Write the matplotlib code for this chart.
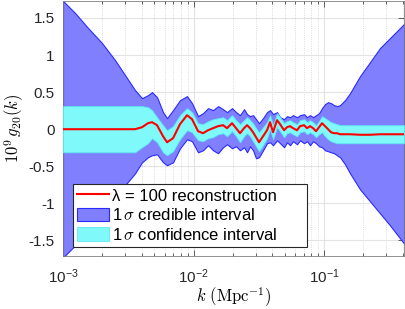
import matplotlib
import matplotlib.pyplot as plt
from matplotlib.ticker import FixedLocator, FixedFormatter, LogLocator, NullFormatter

matplotlib.use("Agg")

plt.rcParams["font.family"] = ["Liberation Sans", "DejaVu Sans"]
plt.rcParams["mathtext.fontset"] = "cm"

# wavenumber grid (Mpc^-1)
k = [0.001, 0.001236, 0.001555, 0.00199, 0.002503, 0.002986, 0.003562, 0.004031,
     0.004479, 0.004808,
     0.005253, 0.00584, 0.006264, 0.006966, 0.007876, 0.008916, 0.009738, 0.01083,
     0.01182, 0.01292, 0.01411, 0.01541, 0.01683, 0.01806, 0.01972, 0.02117,
     0.02271, 0.02438, 0.0257, 0.0271, 0.02857, 0.03012, 0.03176, 0.03409,
     0.03658, 0.03857, 0.04066, 0.04364, 0.04601, 0.04937, 0.05205, 0.05488,
     0.05786, 0.06209, 0.06547, 0.07025, 0.07407, 0.0781, 0.08234, 0.08681,
     0.09156, 0.09654, 0.1018, 0.1073, 0.1131, 0.1193, 0.1258, 0.1326,
     0.1448, 0.1582, 0.1887, 0.2252, 0.2686, 0.3204, 0.41]

recon = [0, 0, 0, 0, 0, 0, 0, 0.027, 0.081, 0.095,
         0.054, -0.095, -0.176, -0.122, 0.068, 0.189, 0.135, -0.027,
         -0.054, -0.014, 0.014, 0.041, 0.054, 0.014, 0.081, 0.014,
         -0.054, 0.014, 0.054, 0.014, -0.041, -0.108, -0.176, -0.095,
         -0.014, 0.095, -0.041, 0.122, 0.068, -0.014, 0.027, 0.041,
         0.014, -0.014, 0.041, 0.054, 0.014, 0.041, 0.014, -0.027,
         0.027, 0.081, 0.041, 0.0, -0.041, -0.054, -0.054, -0.068,
         -0.068, -0.068, -0.075, -0.075, -0.068, -0.068, -0.068]

cred_hi = [1.73, 1.568, 1.365, 1.162, 0.932, 0.73, 0.527, 0.419, 0.459, 0.5,
           0.432, 0.23, 0.149, 0.257, 0.392, 0.446, 0.351, 0.176,
           0.216, 0.284, 0.257, 0.311, 0.27, 0.23, 0.284, 0.23,
           0.189, 0.27, 0.203, 0.176, 0.189, 0.135, 0.081, 0.149,
           0.23, 0.257, 0.203, 0.23, 0.162, 0.135, 0.176, 0.162,
           0.189, 0.162, 0.189, 0.203, 0.162, 0.189, 0.162, 0.189,
           0.216, 0.284, 0.338, 0.365, 0.351, 0.324, 0.311, 0.324,
           0.392, 0.486, 0.716, 0.905, 1.095, 1.23, 1.419]

cred_lo = [-1.73, -1.568, -1.365, -1.162, -0.932, -0.757, -0.595, -0.446, -0.378, -0.351,
           -0.338, -0.446, -0.486, -0.446, -0.257, -0.135, -0.162, -0.311,
           -0.284, -0.216, -0.284, -0.324, -0.243, -0.203, -0.257, -0.23,
           -0.284, -0.243, -0.311, -0.23, -0.284, -0.392, -0.378, -0.284,
           -0.189, -0.176, -0.216, -0.149, -0.189, -0.243, -0.176, -0.216,
           -0.162, -0.203, -0.149, -0.189, -0.162, -0.216, -0.162, -0.189,
           -0.23, -0.243, -0.284, -0.297, -0.311, -0.324, -0.351, -0.378,
           -0.473, -0.595, -0.811, -0.973, -1.135, -1.297, -1.541]

conf_hi = [0.311, 0.311, 0.311, 0.311, 0.311, 0.311, 0.311, 0.311, 0.297, 0.257,
           0.162, 0.054, -0.014, 0.041, 0.189, 0.284, 0.23, 0.081,
           0.068, 0.108, 0.135, 0.149, 0.162, 0.122, 0.189, 0.122,
           0.068, 0.122, 0.162, 0.122, 0.081, 0.014, -0.041, 0.027,
           0.095, 0.189, 0.054, 0.216, 0.162, 0.081, 0.108, 0.122,
           0.095, 0.068, 0.122, 0.135, 0.095, 0.122, 0.095, 0.054,
           0.108, 0.176, 0.149, 0.122, 0.095, 0.081, 0.068, 0.054,
           0.054, 0.054, 0.054, 0.054, 0.054, 0.054, 0.054]

conf_lo = [-0.311, -0.311, -0.311, -0.311, -0.311, -0.311, -0.311, -0.243, -0.189, -0.122,
           -0.176, -0.311, -0.351, -0.297, -0.135, -0.014, -0.041, -0.149,
           -0.162, -0.122, -0.108, -0.068, -0.054, -0.095, -0.027, -0.095,
           -0.176, -0.095, -0.054, -0.095, -0.162, -0.23, -0.297, -0.216,
           -0.122, 0.0, -0.135, 0.027, -0.027, -0.108, -0.054, -0.041,
           -0.068, -0.095, -0.041, -0.027, -0.068, -0.041, -0.068, -0.108,
           -0.068, -0.041, -0.095, -0.135, -0.162, -0.176, -0.189, -0.189,
           -0.189, -0.189, -0.189, -0.189, -0.189, -0.189, -0.189]

y_ticks = [-1.5, -1, -0.5, 0, 0.5, 1, 1.5]
y_tick_labels = ["-1.5", "-1", "-0.5", "0", "0.5", "1", "1.5"]
x_ticks = [1e-3, 1e-2, 1e-1]
x_tick_labels = [r"$\mathregular{10^{-3}}$", r"$\mathregular{10^{-2}}$", r"$\mathregular{10^{-1}}$"]

figure = plt.figure(figsize=(4.05, 3.09), dpi=100)
axis = figure.add_axes([0.1556, 0.1715, 0.842, 0.8255])

axis.fill_between(k, cred_lo, cred_hi, facecolor="#8080ff", edgecolor="#2a2aff",
                  linewidth=0.8, label=r"1$\,\sigma$ credible interval", zorder=2)
axis.fill_between(k, conf_lo, conf_hi, facecolor="#7ff9f9", edgecolor="#5ce8f0",
                  linewidth=0.6, label=r"1$\,\sigma$ confidence interval", zorder=3)
axis.plot(k, recon, color="#ff0000", linewidth=1.5,
          label="λ = 100 reconstruction", zorder=4)

axis.set_xscale("log")
axis.set_xlim(1e-3, 0.41)
axis.set_ylim(-1.71, 1.73)
axis.xaxis.set_major_locator(FixedLocator(x_ticks))
axis.xaxis.set_major_formatter(FixedFormatter(x_tick_labels))
axis.xaxis.set_minor_locator(LogLocator(base=10, subs=range(2, 10), numticks=20))
axis.xaxis.set_minor_formatter(NullFormatter())
axis.yaxis.set_major_locator(FixedLocator(y_ticks))
axis.yaxis.set_major_formatter(FixedFormatter(y_tick_labels))

axis.set_axisbelow(True)
axis.grid(True, which="major", color="#e3e3e3", linewidth=0.8, linestyle="-")
axis.grid(True, which="minor", axis="x", color="#d0d0d0", linewidth=0.6, linestyle=":")
axis.tick_params(which="both", direction="in", top=True, right=True,
                 labelsize=11, colors="#262626", pad=6)
axis.tick_params(axis="x", which="major", pad=8)
axis.tick_params(which="major", length=4, width=0.5)
axis.tick_params(which="minor", length=2, width=0.5)
for spine in axis.spines.values():
    spine.set_color("#808080")
    spine.set_linewidth(0.6)

axis.set_ylabel(r"$10^9\,g_{20}(k)$", fontsize=12, labelpad=2)
axis.set_xlabel(r"$k\ (\mathrm{Mpc}^{-1})$", fontsize=12, labelpad=0)

handles, labels = axis.get_legend_handles_labels()
order = [2, 0, 1]
legend = axis.legend([handles[i] for i in order], [labels[i] for i in order],
                     loc="lower left", bbox_to_anchor=(0.029, 0.035, 0.686, 0.255),
                     mode="expand", borderaxespad=0, fontsize=12, handlelength=1.9,
                     handleheight=0.85, handletextpad=0.2, labelspacing=0.22,
                     borderpad=0.25, fancybox=False, framealpha=1)
legend.get_frame().set_edgecolor("#262626")
legend.get_frame().set_linewidth(0.8)

figure.savefig("out.png", dpi=100)
plt.close(figure)
